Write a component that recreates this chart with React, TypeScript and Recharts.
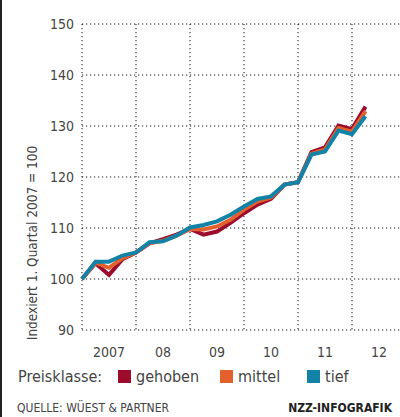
import { LineChart, Line, XAxis, YAxis, CartesianGrid, Label } from "recharts";

const quarters = [
  "2007 Q1", "2007 Q2", "2007 Q3", "2007 Q4",
  "2008 Q1", "2008 Q2", "2008 Q3", "2008 Q4",
  "2009 Q1", "2009 Q2", "2009 Q3", "2009 Q4",
  "2010 Q1", "2010 Q2", "2010 Q3", "2010 Q4",
  "2011 Q1", "2011 Q2", "2011 Q3", "2011 Q4",
  "2012 Q1", "2012 Q2",
];

const gehoben = [
  100, 103.1, 100.8, 103.9, 105.2, 107.0, 107.8, 108.7, 109.8, 108.7, 109.3,
  111.0, 112.9, 114.6, 115.7, 118.5, 119.0, 124.9, 125.8, 130.1, 129.4, 133.8,
];
const mittel = [
  100, 103.2, 102.2, 104.1, 105.2, 107.0, 107.5, 108.5, 109.8, 109.7, 110.3,
  111.6, 113.6, 115.2, 116.0, 118.5, 119.0, 124.6, 125.4, 129.6, 128.9, 132.9,
];
const tief = [
  100, 103.4, 103.4, 104.6, 105.2, 107.2, 107.4, 108.5, 110.1, 110.6, 111.3,
  112.6, 114.2, 115.7, 116.2, 118.5, 119.0, 124.4, 125.0, 129.1, 128.4, 131.9,
];

const yearTicks = [0, 4, 8, 12, 16, 20];
const yearLabels = ["2007", "08", "09", "10", "11", "12"];
const yTicks = [90, 100, 110, 120, 130, 140, 150];

// legend x positions (square left edge) match the reference
const series = [
  { key: "gehoben", name: "gehoben", color: "#9c0a2c", legendX: 118 },
  { key: "mittel", name: "mittel", color: "#e4612d", legendX: 220 },
  { key: "tief", name: "tief", color: "#1283a6", legendX: 307 },
];

const data = quarters.map((q, i) => ({
  q: i,
  label: q,
  gehoben: gehoben[i],
  mittel: mittel[i],
  tief: tief[i],
}));

const font = "'Liberation Sans Narrow', 'DejaVu Sans Condensed', 'Roboto', sans-serif";
const textColor = "#444";

function YearTick(props: any) {
  const { x, y, payload } = props;
  const idx = yearTicks.indexOf(payload.value);
  return (
    <text x={x + 27} y={y} dy={19} textAnchor="middle" fill={textColor} fontSize={14} fontFamily={font}>
      {yearLabels[idx]}
    </text>
  );
}

function AxisTitle() {
  const cy = 243;
  const cx = 32;
  return (
    <text
      x={cx}
      y={cy}
      transform={`rotate(-90, ${cx}, ${cy})`}
      textAnchor="middle"
      dominantBaseline="central"
      fill={textColor}
      fontSize={13.5}
      fontFamily={font}
    >
      Indexiert 1. Quartal 2007 = 100
    </text>
  );
}

export default function App() {
  return (
    <div
      style={{
        position: "absolute",
        left: 0,
        top: 0,
        width: 400,
        height: 417,
        overflow: "hidden",
        background: "#fff",
        fontFamily: font,
      }}
    >
      <div style={{ position: "absolute", left: 0, top: 0, width: 2, height: 417, background: "#222" }} />
      <LineChart width={406} height={360} data={data} margin={{ top: 24, right: 0, left: 0, bottom: 0 }}>
        <CartesianGrid stroke="#111" strokeDasharray="1.2 2.8" />
        <XAxis
          dataKey="q"
          type="number"
          domain={[0, 24]}
          ticks={yearTicks}
          tick={<YearTick />}
          axisLine={false}
          tickLine={false}
          height={30}
        />
        <YAxis
          type="number"
          domain={[90, 150]}
          ticks={yTicks}
          axisLine={false}
          tickLine={false}
          width={82}
          tick={{ fill: textColor, fontSize: 14, fontFamily: font }}
        >
          <Label content={<AxisTitle />} />
        </YAxis>
        {series.map((s) => (
          <Line
            key={s.key}
            dataKey={s.key}
            name={s.name}
            type="linear"
            stroke={s.color}
            strokeWidth={4}
            dot={false}
            isAnimationActive={false}
          />
        ))}
      </LineChart>
      <div style={{ position: "absolute", left: 18, top: 367, fontSize: 16, color: textColor, whiteSpace: "nowrap" }}>
        Preisklasse:
      </div>
      {series.map((s) => (
        <div key={s.key}>
          <div
            style={{ position: "absolute", left: s.legendX, top: 370, width: 13, height: 13, background: s.color }}
          />
          <div
            style={{
              position: "absolute",
              left: s.legendX + 18,
              top: 367,
              fontSize: 16,
              color: textColor,
              whiteSpace: "nowrap",
            }}
          >
            {s.name}
          </div>
        </div>
      ))}
      <div style={{ position: "absolute", left: 17, top: 401, fontSize: 12, color: textColor }}>
        QUELLE: WÜEST &amp; PARTNER
      </div>
      <div
        style={{ position: "absolute", right: 8, top: 401, fontSize: 12, color: "#222", fontWeight: "bold" }}
      >
        NZZ-INFOGRAFIK
      </div>
    </div>
  );
}
